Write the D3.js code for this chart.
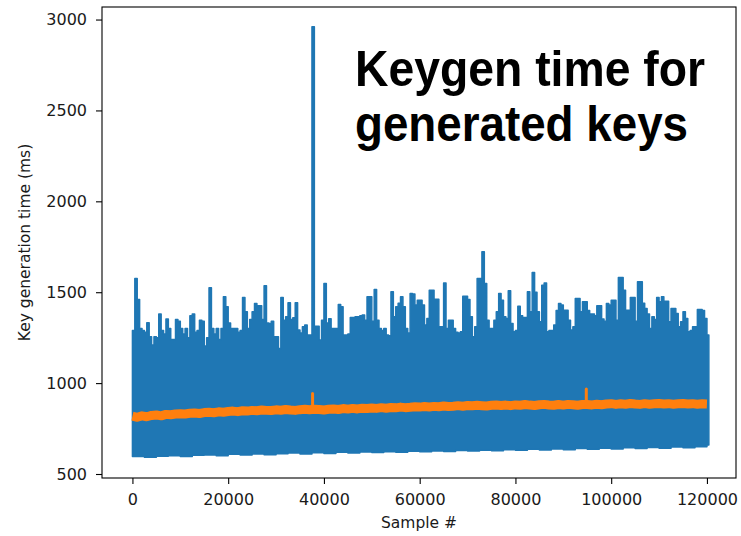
<!DOCTYPE html>
<html>
<head>
<meta charset="utf-8">
<script src="https://cdn.jsdelivr.net/npm/d3@7"></script>
<style>
  body { margin: 0; background: #fff; }
  svg { display: block; }
</style>
</head>
<body>
<div id="chart"></div>
<script>
// per-bin maximum of the keygen time (ms), one value per 500 samples
var binSize = 500;
var peakTimes = [
  1290,1575,1460,1300,1290,1280,1332,1255,1210,1255, 1250,1380,1290,1270,1352,1300,1240,1240,1350,1340,
  1300,1270,1300,1250,1370,1380,1280,1290,1346,1340, 1204,1250,1524,1300,1270,1300,1240,1300,1475,1420,
  1330,1300,1300,1300,1280,1290,1471,1392,1300,1350, 1392,1438,1425,1425,1350,1535,1330,1328,1340,1255,
  1255,1190,1471,1346,1365,1442,1350,1360,1442,1292, 1275,1310,1319,1264,1264,2960,1313,1313,1237,1346,
  1548,1330,1354,1300,1300,1300,1432,1420,1264,1264, 1270,1361,1361,1365,1365,1370,1374,1346,1475,1475,
  1340,1515,1346,1300,1290,1300,1264,1260,1502,1365, 1420,1440,1475,1420,1300,1275,1493,1490,1429,1456,
  1456,1429,1320,1356,1511,1511,1462,1462,1310,1310, 1551,1300,1346,1346,1300,1280,1275,1283,1478,1478,
  1460,1365,1255,1310,1575,1575,1722,1548,1346,1300, 1300,1346,1392,1493,1456,1365,1356,1508,1328,1283,
  1290,1423,1370,1361,1361,1502,1392,1608,1500,1392, 1337,1539,1551,1283,1290,1290,1320,1400,1438,1430,
  1401,1401,1346,1292,1310,1466,1466,1392,1447,1447, 1400,1380,1380,1370,1425,1425,1352,1340,1438,1430,
  1456,1456,1346,1581,1581,1511,1401,1401,1471,1471, 1340,1557,1557,1440,1410,1380,1300,1365,1350,1471,
  1447,1475,1451,1451,1337,1411,1411,1383,1310,1337, 1392,1356,1283,1290,1310,1310,1405,1405,1400,1356,
  1264
];

// per-bin minimum (ms), one value per 2500 samples
var floorStep = 2500;
var floorTimes = [
  596,592,598,600,596,603,605,600,608,604, 610,606,612,615,610,617,613,619,616,621,
  618,623,620,625,622,627,624,629,626,631, 628,633,630,636,632,638,634,640,636,642,
  638,644,640,646,642,648,645,650,660
];
var sampleCount = 120400;

// running mean (ms), one value per 1000 samples
var avgStep = 1000;
var avgTimes = [
  818,812,820,815,822,825,820,828,826,830, 832,830,834,836,833,838,840,837,842,840,
  844,846,843,848,846,850,848,852,850,849, 853,851,855,852,850,854,856,853,856,855,
  852,856,858,855,860,857,861,858,862,860, 863,861,865,862,866,864,868,865,867,870,
  868,871,869,872,870,874,871,873,876,873, 877,875,878,876,874,878,880,877,879,876,
  880,878,882,879,877,881,883,880,878,882, 879,883,881,878,882,882,880,884,881,885,
  887,883,886,884,888,885,883,887,884,886, 888,885,887,884,886,888,885,887,884,886,
  885
];
var avgSpikeSamples = [37630, 94800];
var avgSpikeTimes = [943, 968];

var xTicks = [0, 20000, 40000, 60000, 80000, 100000, 120000];
var yTicks = [500, 1000, 1500, 2000, 2500, 3000];
var titleLines = ["Keygen time for", "generated keys"];

var width = 741, height = 536;
var blue = "#1f77b4", orange = "#ff7f0e";

var svg = d3.select("#chart").append("svg")
    .attr("width", width)
    .attr("height", height);

var x = d3.scaleLinear().domain([-6356, 126070]).range([102, 736]);
var y = d3.scaleLinear().domain([478, 3069]).range([478, 7]);

// blue band built from bin maxima and minima
var bins = peakTimes.map(function (h, k) {
  var s = k * binSize;
  return { s: s, hi: h, lo: floorTimes[Math.floor(s / floorStep)] };
});
bins.push({ s: sampleCount, hi: peakTimes[peakTimes.length - 1], lo: floorTimes[floorTimes.length - 1] });

var band = d3.area()
    .curve(d3.curveStepAfter)
    .x(function (d) { return x(d.s); })
    .y0(function (d) { return y(d.lo); })
    .y1(function (d) { return y(d.hi); });

svg.append("path")
    .datum(bins)
    .attr("d", band)
    .attr("fill", blue)
    .attr("stroke", blue)
    .attr("stroke-width", 1.5)
    .attr("stroke-linejoin", "round");

// orange running mean
var avg = avgTimes.map(function (v, i) { return { s: i * avgStep, v: v }; });
var line = d3.line()
    .x(function (d) { return x(d.s); })
    .y(function (d) { return y(d.v); });

svg.append("path")
    .datum(avg)
    .attr("d", line)
    .attr("fill", "none")
    .attr("stroke", orange)
    .attr("stroke-width", 9)
    .attr("stroke-linejoin", "round");

svg.append("g").selectAll("line")
    .data(avgSpikeSamples)
    .enter()
    .append("line")
      .attr("x1", function (d) { return x(d); })
      .attr("x2", function (d) { return x(d); })
      .attr("y1", function (d) { return y(avgTimes[Math.round(d / avgStep)]); })
      .attr("y2", function (d, i) { return y(avgSpikeTimes[i]); })
      .attr("stroke", orange)
      .attr("stroke-width", 3)
      .attr("stroke-linecap", "round");

// frame
svg.append("rect")
    .attr("x", 102).attr("y", 7)
    .attr("width", 634).attr("height", 471)
    .attr("fill", "none")
    .attr("stroke", "#000")
    .attr("stroke-width", 1.1);

var xAxis = svg.append("g")
    .attr("transform", "translate(0,478)")
    .call(d3.axisBottom(x).tickValues(xTicks).tickSize(6).tickPadding(9.6).tickFormat(d3.format("d")));
var yAxis = svg.append("g")
    .attr("transform", "translate(102,0)")
    .call(d3.axisLeft(y).tickValues(yTicks).tickSize(6).tickPadding(9).tickFormat(d3.format("d")));

[xAxis, yAxis].forEach(function (g) {
  g.select(".domain").remove();
  g.selectAll(".tick line").attr("stroke", "#000").attr("stroke-width", 1.1);
  g.selectAll(".tick text")
    .attr("fill", "#1a1a1a")
    .style("font-family", "'DejaVu Sans', sans-serif")
    .style("font-size", "16px");
});

svg.append("text")
    .attr("transform", "translate(30,242.5) rotate(-90)")
    .attr("text-anchor", "middle")
    .style("font-family", "'DejaVu Sans', sans-serif")
    .style("font-size", "15.5px")
    .attr("fill", "#1a1a1a")
    .text("Key generation time (ms)");

svg.append("text")
    .attr("x", 419).attr("y", 528)
    .attr("text-anchor", "middle")
    .style("font-family", "'DejaVu Sans', sans-serif")
    .style("font-size", "15.5px")
    .attr("fill", "#1a1a1a")
    .text("Sample #");

// big overlay title
var titleWidths = [350, 333];
svg.append("g").selectAll("text")
    .data(titleLines)
    .enter()
    .append("text")
      .attr("x", 355)
      .attr("y", function (d, i) { return 86 + i * 55; })
      .attr("textLength", function (d, i) { return titleWidths[i]; })
      .attr("lengthAdjust", "spacingAndGlyphs")
      .style("font-family", "'Liberation Sans', Arial, sans-serif")
      .style("font-weight", "bold")
      .style("font-size", "50px")
      .attr("fill", "#000")
      .text(function (d) { return d; });
</script>
</body>
</html>
